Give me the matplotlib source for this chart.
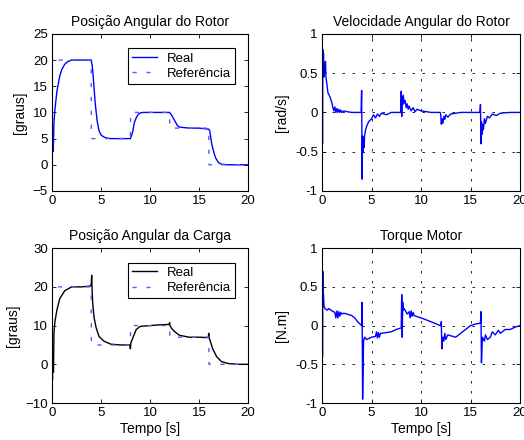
import matplotlib
matplotlib.use("Agg")
import matplotlib.pyplot as plt

plt.rcParams["font.family"] = ["Liberation Sans", "DejaVu Sans"]
plt.rcParams["font.size"] = 9.5

# reference (set point), degrees
ref_t = [0, 0.02, 4, 4.02, 8, 8.02, 12, 12.02, 16, 16.02, 20]
ref_pos = [0, 20, 20, 5, 5, 10, 10, 7, 7, 0, 0]

# rotor position, degrees
rot_t = [0, 0.05, 0.1, 0.15, 0.2, 0.3, 0.5, 0.8, 1.0, 1.3, 1.6, 2.0, 3.0, 4.0,
         4.1, 4.2, 4.4, 4.6, 4.8, 5.0, 5.3, 5.6, 6.0, 7.0, 8.0, 8.2, 8.4, 8.6,
         8.8, 9.0, 9.3, 10.0, 11.0, 12.0, 12.2, 12.5, 12.8, 13.0, 14.0, 15.0,
         16.0, 16.1, 16.3, 16.5, 16.7, 17.0, 17.3, 18.0, 20.0]
rot_pos = [0, 4.5, 2.5, 4.0, 8.0, 10.5, 14.0, 17.0, 18.2, 19.2, 19.7, 20.0, 20.0, 20.0,
           19.0, 17.0, 12.0, 8.5, 6.5, 5.7, 5.3, 5.1, 5.0, 5.0, 5.0, 6.0, 8.0, 9.0,
           9.6, 9.9, 10.0, 10.0, 10.0, 10.0, 9.5, 8.5, 7.5, 7.2, 7.0, 7.0,
           6.8, 6.5, 4.0, 2.5, 1.3, 0.4, 0.1, 0.0, 0.0]

# load position, degrees
load_t = [0, 0.05, 0.1, 0.15, 0.2, 0.3, 0.5, 0.8, 1.3, 2.0, 3.0, 3.9, 4.0, 4.05, 4.1,
          4.15, 4.3, 4.5, 4.8, 5.3, 6.0, 7.0, 7.95, 8.0, 8.05, 8.2, 8.6, 9.0, 10.0,
          11.0, 11.95, 12.0, 12.05, 12.2, 12.5, 13.0, 14.0, 15.0, 15.95, 16.0,
          16.05, 16.4, 16.8, 17.3, 18.0, 19.0, 20.0]
load_pos = [0, -4.0, 3.0, -2.0, 8.0, 11.0, 14.0, 17.0, 19.0, 20.0, 20.0, 20.2, 20.5, 23.0, 19.0,
            16.0, 12.0, 9.5, 7.2, 6.0, 5.2, 5.0, 5.0, 4.0, 5.5, 6.5, 9.0, 9.8, 10.0,
            10.2, 10.3, 10.8, 10.0, 9.3, 8.5, 7.5, 7.0, 7.0, 6.9, 8.0,
            6.8, 4.0, 2.0, 0.7, 0.2, 0.0, 0.0]

# rotor angular velocity, rad/s
vel_t = [0, 0.02, 0.05, 0.08, 0.1, 0.15, 0.2, 0.25, 0.3, 0.35, 0.4, 0.5, 0.6, 0.8,
         1.0, 1.1, 1.2, 1.3, 1.4, 1.5, 1.6, 1.7, 1.8, 1.9, 2.0, 2.2, 2.5, 3.0, 3.95,
         4.0, 4.05, 4.1, 4.15, 4.2, 4.25, 4.3, 4.4, 4.5, 4.7, 5.0, 5.2, 5.4, 5.6,
         5.8, 6.0, 6.5, 7.0, 7.95, 8.0, 8.05, 8.1, 8.15, 8.2, 8.3, 8.4, 8.5, 8.6,
         8.7, 8.8, 9.0, 9.2, 9.4, 9.6, 10.0, 10.5, 11.0, 11.95, 12.0, 12.05, 12.1,
         12.2, 12.3, 12.4, 12.5, 12.7, 13.0, 13.5, 14.0, 15.95, 16.0, 16.05, 16.1,
         16.15, 16.2, 16.3, 16.4, 16.5, 16.7, 16.9, 17.2, 17.6, 18.0, 19.0, 20.0]
vel = [0, 1.0, -0.4, 0.8, 0.55, 0.75, 0.45, 0.62, 0.5, 0.65, 0.45, 0.35, 0.25, 0.2,
       0.12, 0.06, 0.02, 0.07, 0.0, 0.05, 0.0, 0.04, 0.0, 0.03, 0.0, 0.02, 0.01, 0.0, 0.0,
       0.28, -0.85, -0.3, -0.5, -0.32, -0.45, -0.3, -0.22, -0.18, -0.12, -0.08, -0.03, -0.07, -0.02,
       -0.05, -0.01, -0.03, 0.0, 0.0, 0.27, -0.05, 0.2, 0.1, 0.22, 0.12, 0.15, 0.06, 0.11,
       0.04, 0.08, 0.02, 0.06, 0.01, 0.04, 0.02, 0.01, 0.0, 0.0, -0.05, -0.15, -0.08,
       -0.14, -0.05, -0.09, -0.03, -0.06, -0.02, -0.01, 0.0, 0.0, 0.1, -0.4, -0.12,
       -0.28, -0.15, -0.22, -0.08, -0.14, -0.05, -0.07, -0.02, -0.04, -0.01, 0.0, 0.0]

# motor torque, N.m
tq_t = [0, 0.02, 0.05, 0.08, 0.1, 0.15, 0.2, 0.3, 0.5, 0.7, 1.0, 1.3, 1.4, 1.5, 1.6,
        1.7, 1.8, 1.9, 2.0, 2.2, 2.5, 3.0, 3.3, 3.6, 4.0, 4.05, 4.1, 4.15, 4.2, 4.3,
        4.5, 5.0, 5.4, 5.5, 5.6, 5.7, 5.8, 5.9, 6.0, 7.0, 7.5, 8.0, 8.05, 8.1, 8.15,
        8.2, 8.3, 8.6, 8.8, 8.9, 9.0, 9.1, 9.2, 9.3, 9.5, 10.0, 11.0, 11.95, 12.0,
        12.05, 12.1, 12.2, 12.3, 12.4, 12.5, 12.7, 13.5, 14.0, 14.5, 15.0, 15.5, 15.95,
        16.0, 16.05, 16.1, 16.2, 16.4, 16.5, 16.7, 17.0, 17.2, 17.5, 17.8, 18.0, 18.5,
        19.0, 19.5, 20.0]
tq = [0, 1.0, -0.4, 0.7, 0.3, 0.4, 0.25, 0.22, 0.2, 0.22, 0.19, 0.17, 0.1, 0.19, 0.1,
      0.18, 0.12, 0.17, 0.15, 0.16, 0.15, 0.13, 0.1, 0.05, 0.0, 0.3, -0.95, -0.55, -0.2, -0.15,
      -0.18, -0.15, -0.14, -0.08, -0.16, -0.09, -0.15, -0.1, -0.1, -0.08, -0.05, -0.03, 0.4, -0.15, 0.3,
      0.2, 0.22, 0.15, 0.18, 0.1, 0.19, 0.12, 0.17, 0.13, 0.12, 0.1, 0.05, 0.0, 0.0,
      0.05, -0.3, -0.15, -0.2, -0.1, -0.18, -0.12, -0.15, -0.1, -0.05, 0.0, 0.02, 0.03,
      0.03, 0.18, -0.48, -0.15, -0.2, -0.12, -0.18, -0.15, -0.08, -0.12, -0.06, -0.1, -0.05,
      -0.05, -0.02, 0.0]

blue = "#0000ff"
ref_blue = "#5a5aff"

fig = plt.figure(figsize=(5.24, 4.40), dpi=100)

ax1 = fig.add_axes([0.0992, 0.566, 0.374, 0.357])
ax2 = fig.add_axes([0.6145, 0.566, 0.378, 0.357])
ax3 = fig.add_axes([0.0992, 0.084, 0.374, 0.352])
ax4 = fig.add_axes([0.6145, 0.084, 0.378, 0.352])


def style(ax):
    ax.set_xlim(0, 20)
    ax.set_xticks([0, 5, 10, 15, 20])
    ax.tick_params(direction="in", top=True, right=True, length=3,
                   width=0.6, labelsize=9.5, pad=3)
    for sp in ax.spines.values():
        sp.set_linewidth(0.8)


def add_legend(ax):
    leg = ax.legend(loc="upper right", bbox_to_anchor=(0.965, 0.95),
                    fancybox=False, framealpha=1, edgecolor="black",
                    fontsize=9.5, handlelength=1.9, borderpad=0.3,
                    labelspacing=0.25, handletextpad=0.7)
    leg.get_frame().set_linewidth(0.8)


# rotor position
ax1.plot(rot_t, rot_pos, color=blue, lw=1.0, label="Real")
ax1.plot(ref_t, ref_pos, color=ref_blue, lw=1.0, dashes=(3, 7),
         label="Referência")
ax1.set_ylim(-5, 25)
ax1.set_yticks([-5, 0, 5, 10, 15, 20, 25])
ax1.set_ylabel("[graus]", fontsize=10)
ax1.set_title("Posição Angular do Rotor", fontsize=10, pad=6)
style(ax1)
add_legend(ax1)

# rotor velocity
ax2.plot(vel_t, vel, color=blue, lw=1.0)
ax2.set_ylim(-1, 1)
ax2.set_yticks([-1, -0.5, 0, 0.5, 1])
ax2.set_yticklabels(["-1", "-0.5", "0", "0.5", "1"])
ax2.set_ylabel("[rad/s]", fontsize=10)
ax2.set_title("Velocidade Angular do Rotor", fontsize=10, pad=6)
ax2.grid(True, color="black", lw=0.6, dashes=(3, 9))
style(ax2)

# load position
ax3.plot(load_t, load_pos, color="black", lw=1.0, label="Real")
ax3.plot(ref_t, ref_pos, color=ref_blue, lw=1.0, dashes=(3, 7),
         label="Referência")
ax3.set_ylim(-10, 30)
ax3.set_yticks([-10, 0, 10, 20, 30])
ax3.set_ylabel("[graus]", fontsize=10)
ax3.set_xlabel("Tempo [s]", fontsize=10, labelpad=2)
ax3.set_title("Posição Angular da Carga", fontsize=10, pad=6)
style(ax3)
add_legend(ax3)

# motor torque
ax4.plot(tq_t, tq, color=blue, lw=1.0)
ax4.set_ylim(-1, 1)
ax4.set_yticks([-1, -0.5, 0, 0.5, 1])
ax4.set_yticklabels(["-1", "-0.5", "0", "0.5", "1"])
ax4.set_ylabel("[N.m]", fontsize=10)
ax4.set_xlabel("Tempo [s]", fontsize=10, labelpad=2)
ax4.set_title("Torque Motor", fontsize=10, pad=6)
ax4.grid(True, color="black", lw=0.6, dashes=(3, 9))
style(ax4)

fig.savefig("out.png", dpi=100)
